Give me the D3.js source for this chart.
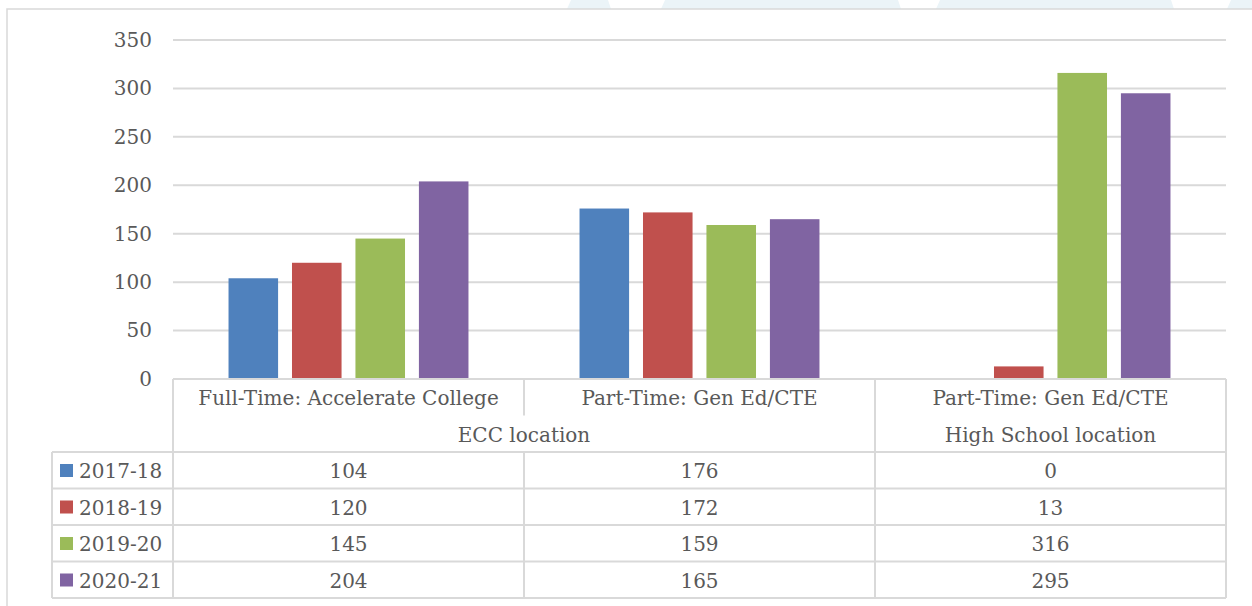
<!DOCTYPE html>
<html><head><meta charset="utf-8">
<script src="https://cdn.jsdelivr.net/npm/d3@7"></script>
<style>html,body{margin:0;padding:0;background:#fff;overflow:hidden}</style>
</head><body><svg id="c" width="1252" height="606"></svg>
<script>
const categories = ["Full-Time: Accelerate College", "Part-Time: Gen Ed/CTE", "Part-Time: Gen Ed/CTE"];
const locations = ["ECC location", "High School location"];
const locationSpans = [[0, 1], [2, 2]];
const seriesNames = ["2017-18", "2018-19", "2019-20", "2020-21"];
const v2017 = [104, 176, 0];
const v2018 = [120, 172, 13];
const v2019 = [145, 159, 316];
const v2020 = [204, 165, 295];
const yTicks = [0, 50, 100, 150, 200, 250, 300, 350];
const colors = ["#4F81BD", "#C0504D", "#9BBB59", "#8064A2"];
const seriesValues = [v2017, v2018, v2019, v2020];

const svg = d3.select("#c");
const font = "'DejaVu Serif', serif";
const fs = 20;
const textColor = "#595959";
const lineColor = "#D9D9D9";

// watermark stripes above the chart frame
const wm = [[567,608],[661,898],[936,1171],[1227,1270]];
wm.forEach(([a,b]) => {
  svg.append("polygon").attr("points", `${a+4},0 ${b},0 ${b+3},9 ${a},9`).attr("fill", "#EBF4F8");
});
// outer frame
svg.append("rect").attr("x", 7).attr("y", 9).attr("width", 1300).attr("height", 700)
  .attr("fill", "#fff").attr("stroke", lineColor).attr("stroke-width", 1.5);

const pLeft = 173, pRight = 1226, pTop = 40, pBase = 379;
const x = d3.scaleBand().domain(d3.range(categories.length)).range([pLeft, pRight]).padding(0);
const xs = d3.scaleBand().domain(d3.range(seriesNames.length)).range([0, x.bandwidth()])
  .paddingInner(0.219).paddingOuter(0.875);
const y = d3.scaleLinear().domain([0, 350]).range([pBase, pTop]);

// gridlines
svg.append("g").selectAll("line").data(yTicks.filter(t => t > 0)).join("line")
  .attr("x1", pLeft).attr("x2", pRight).attr("y1", d => y(d)).attr("y2", d => y(d))
  .attr("stroke", lineColor).attr("stroke-width", 2);

// y axis labels
const yAxis = d3.axisLeft(y).tickValues(yTicks).tickSize(0).tickPadding(21);
const ga = svg.append("g").attr("transform", `translate(${pLeft},0)`).call(yAxis);
ga.select(".domain").remove();
ga.selectAll("text").attr("font-family", font).attr("font-size", fs).attr("fill", textColor);

// bars
seriesValues.forEach((vals, si) => {
  svg.append("g").selectAll("rect").data(vals).join("rect")
    .attr("x", (d, i) => x(i) + xs(si)).attr("width", xs.bandwidth())
    .attr("y", d => y(d)).attr("height", d => pBase - y(d))
    .attr("fill", colors[si]);
});

// table
const rowH = 36.5;
const r0 = pBase, r1 = pBase + rowH, r2 = pBase + 2 * rowH;
const rEnd = r2 + seriesNames.length * rowH;
const legLeft = 52;
const tbl = svg.append("g").attr("stroke", lineColor).attr("stroke-width", 2).attr("fill", "none");
tbl.append("line").attr("x1", pLeft).attr("x2", pRight).attr("y1", pBase).attr("y2", pBase);
for (let k = 0; k <= seriesNames.length; k++) {
  const yy = r2 + k * rowH;
  tbl.append("line").attr("x1", legLeft).attr("x2", pRight).attr("y1", yy).attr("y2", yy);
}
tbl.append("line").attr("x1", legLeft).attr("x2", legLeft).attr("y1", r2).attr("y2", rEnd);
tbl.append("line").attr("x1", pLeft).attr("x2", pLeft).attr("y1", r0).attr("y2", rEnd);
tbl.append("line").attr("x1", pRight).attr("x2", pRight).attr("y1", r0).attr("y2", rEnd);
for (let i = 1; i < categories.length; i++) {
  const xx = x(i);
  const isLocBoundary = locationSpans.some(s => s[0] === i);
  tbl.append("line").attr("x1", xx).attr("x2", xx).attr("y1", r0).attr("y2", isLocBoundary ? rEnd : r1);
  if (!isLocBoundary) tbl.append("line").attr("x1", xx).attr("x2", xx).attr("y1", r2).attr("y2", rEnd);
}

const txt = svg.append("g").attr("font-family", font).attr("font-size", fs).attr("fill", textColor)
  .attr("text-anchor", "middle");
categories.forEach((c, i) => {
  txt.append("text").attr("x", x(i) + x.bandwidth() / 2).attr("y", r0 + 26).text(c);
});
locations.forEach((l, j) => {
  const [a, b] = locationSpans[j];
  const cx = (x(a) + x(b) + x.bandwidth()) / 2;
  txt.append("text").attr("x", cx).attr("y", r1 + 26).text(l);
});
seriesNames.forEach((s, si) => {
  const yy = r2 + si * rowH;
  svg.append("rect").attr("x", 60).attr("y", yy + 12).attr("width", 13).attr("height", 13).attr("fill", colors[si]);
  svg.append("text").attr("x", 79).attr("y", yy + 26).attr("font-family", font).attr("font-size", fs)
    .attr("fill", textColor).text(s);
  seriesValues[si].forEach((v, i) => {
    txt.append("text").attr("x", x(i) + x.bandwidth() / 2).attr("y", yy + 26).text(v);
  });
});
</script></body></html>
